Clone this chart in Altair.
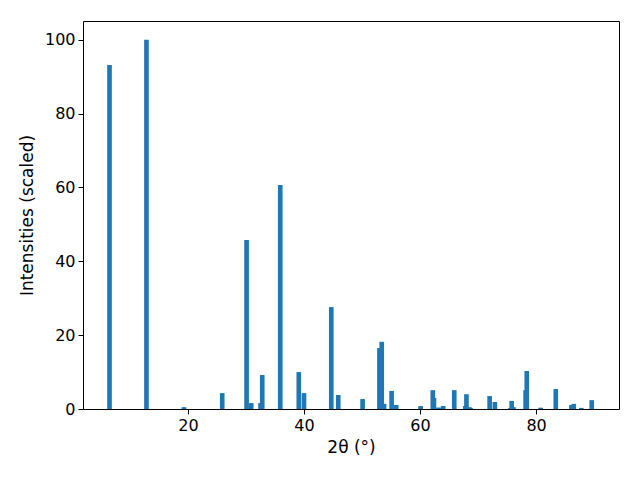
import altair as alt
import pandas as pd

two_theta = [6.47, 12.84, 19.3, 25.9, 30.1, 30.9, 32.5, 32.8, 35.9, 39.1, 40.0,
             44.7, 45.9, 50.1, 53.0, 53.4, 53.8, 55.1, 55.9, 60.1, 62.2, 62.4,
             63.2, 64.0, 65.9, 67.8, 68.0, 68.5, 68.7, 72.0, 72.9, 75.6, 75.8,
             76.1, 78.2, 78.4, 80.8, 83.4, 86.1, 86.5, 87.8, 89.6]
intensity = [93.2, 100.0, 0.5, 4.3, 45.8, 1.6, 1.6, 9.2, 60.7, 10.0, 4.3,
             27.6, 3.8, 2.7, 16.5, 18.2, 1.4, 4.9, 1.1, 0.8, 5.1, 3.0,
             0.4, 0.8, 5.1, 0.8, 4.0, 0.5, 0.3, 3.5, 1.9, 0.3, 2.2,
             0.5, 5.1, 10.3, 0.35, 5.4, 1.1, 1.4, 0.3, 2.4]

df = pd.DataFrame({"x": two_theta, "y": intensity})

bars = alt.Chart(df).transform_calculate(
    x0="datum.x - 0.4", x1="datum.x + 0.4"
).mark_bar(color="#1f77b4", clip=True).encode(
    x=alt.X("x0:Q", scale=alt.Scale(domain=[1.9, 94.3], nice=False, zero=False),
            axis=alt.Axis(values=[20, 40, 60, 80], title="2θ (°)", grid=False,
                          format="d")),
    x2="x1:Q",
    y=alt.Y("y:Q", scale=alt.Scale(domain=[0, 105.1], nice=False),
            axis=alt.Axis(values=[0, 20, 40, 60, 80, 100], title="Intensities (scaled)",
                          grid=False)),
    y2=alt.datum(0),
)

chart = bars.properties(
    width=536, height=388,
    autosize=alt.AutoSizeParams(type="none"),
    padding={"left": 75, "top": 13, "right": 13, "bottom": 63},
).configure_view(
    stroke="black", strokeWidth=1
).configure_axis(
    labelFont="DejaVu Sans", titleFont="DejaVu Sans",
    labelFontSize=16, titleFontSize=17, titleFontWeight="normal",
    labelColor="black", titleColor="black",
    domainColor="black", tickColor="black", tickSize=5, labelPadding=3,
    domain=False,
).configure_axisX(titlePadding=6).configure_axisY(titlePadding=8)

chart.save("out.html", embed_options={"renderer": "svg", "actions": False})
